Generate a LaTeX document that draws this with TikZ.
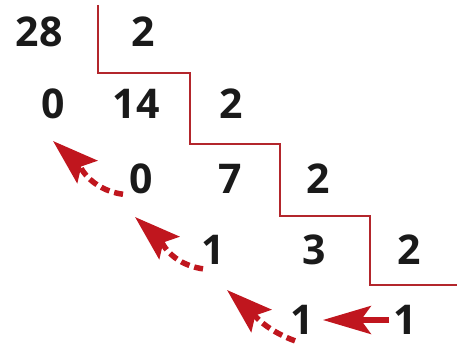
\documentclass[tikz,border=0pt]{standalone}
\usepackage{fontspec}
\setmainfont{Open Sans}
\usetikzlibrary{arrows.meta}
\definecolor{arrred}{HTML}{C0161E}
\definecolor{linered}{HTML}{B3262C}
\definecolor{numgray}{HTML}{1A1A1A}
\tikzset{
  num/.style={inner sep=0pt, text=numgray, font=\fontsize{41}{41}\selectfont\bfseries},
  carry/.style={draw=arrred, line width=5.5pt, dash pattern=on 9pt off 5pt,
    -{Stealth[length=46pt,width=30pt,inset=8pt]}},
  move/.style={draw=arrred, line width=5.5pt,
    -{Stealth[length=48pt,width=28pt,inset=10pt]}},
  stair/.style={draw=linered, line width=1.8pt}
}
\begin{document}
\begin{tikzpicture}[x=1pt,y=1pt]
\useasboundingbox (0,0) rectangle (457,-347);
% stair line
\draw[stair] (98,-5) -- (98,-73) -- (190,-73) -- (190,-144) -- (280,-144)
  -- (280,-216) -- (370,-216) -- (370,-285) -- (457,-285);
% numbers
\node[num] (a1) at (39,-32) {28};
\node[num] (a2) at (143,-32) {2};
\node[num] (b1) at (53,-104) {0};
\node[num] (b2) at (136,-104) {14};
\node[num] (b3) at (231,-104) {2};
\node[num] (c1) at (141,-179) {0};
\node[num] (c2) at (230,-179) {7};
\node[num] (c3) at (318,-179) {2};
\node[num] (d1) at (213,-250) {1};
\node[num] (d2) at (314,-250) {3};
\node[num] (d3) at (409,-250) {2};
\node[num] (e1) at (302,-320) {1};
\node[num] (e2) at (405,-320) {1};
% arrow tips
\coordinate (t1) at (53,-141);
\coordinate (t2) at (135,-217);
\coordinate (t3) at (227,-290);
% arrows
\draw[carry] ([shift={(-18,0)}]c1.south) to[out=172,in=-42] (t1);
\draw[carry] ([shift={(-10,-4)}]d1.south) to[out=172,in=-42] (t2);
\draw[carry] ([shift={(-7,-6)}]e1.south) to[out=160,in=-42] (t3);
\draw[move, shorten <=4pt, shorten >=9pt] (e2.west) -- (e1.east);
\end{tikzpicture}
\end{document}
